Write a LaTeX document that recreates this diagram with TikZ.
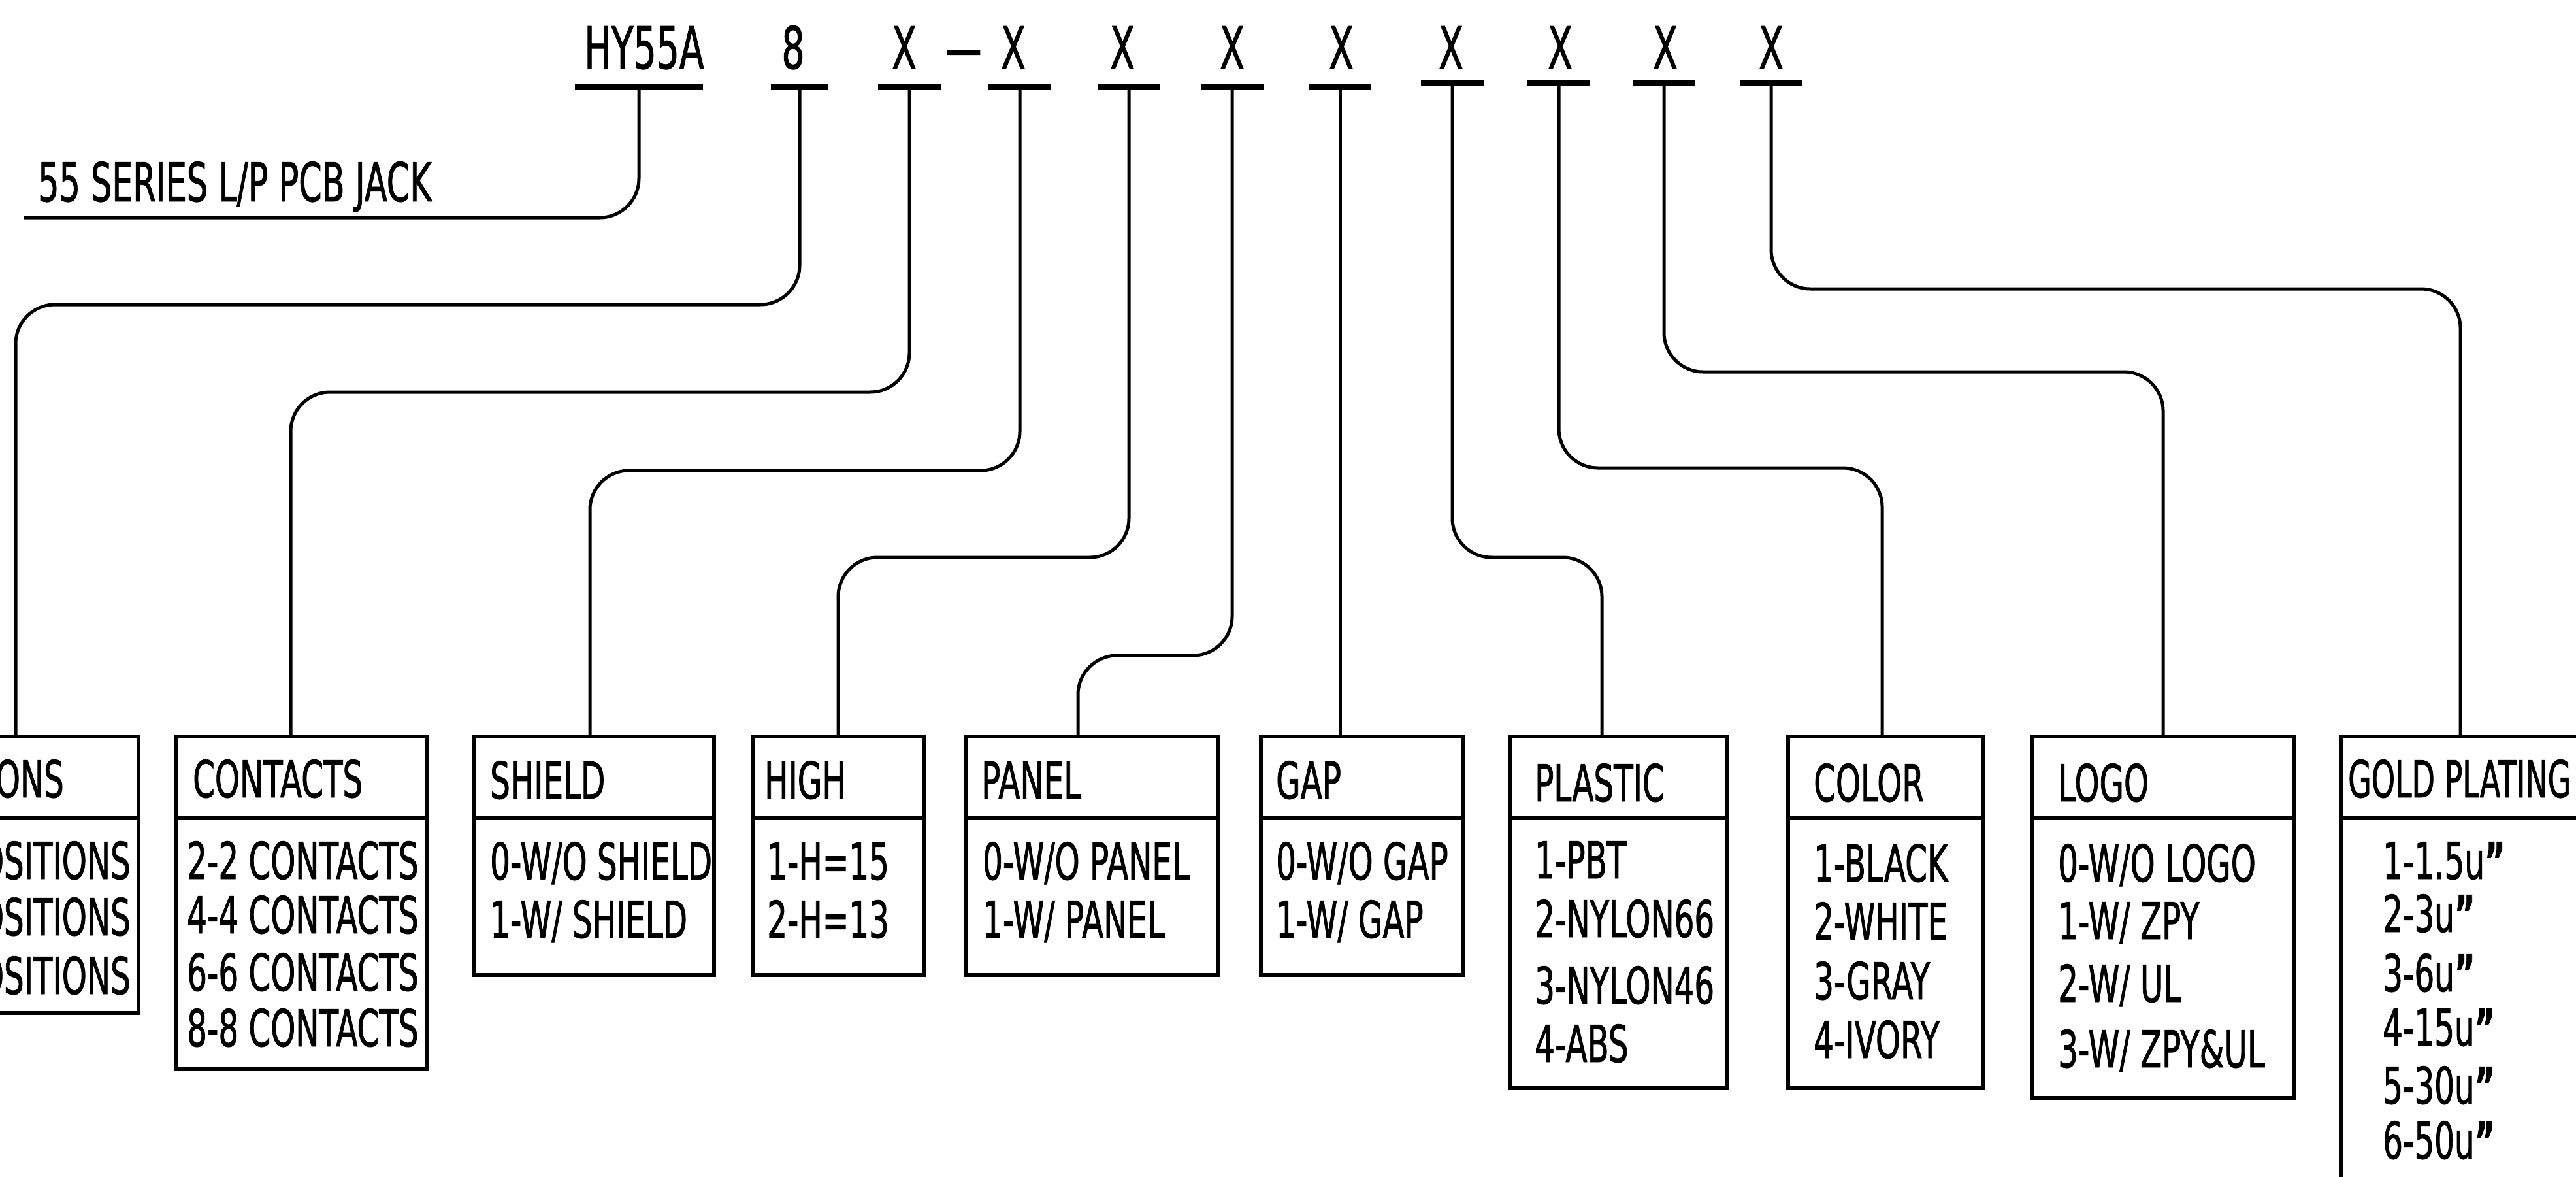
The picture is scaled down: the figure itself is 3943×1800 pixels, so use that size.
\documentclass[tikz,border=0pt]{standalone}
\usepackage{graphicx}
\usepackage{fontspec}
\setmainfont{DejaVu Sans}[FakeStretch=0.62,FakeBold=1]
\newcommand{\inchmark}{{\bfseries\char"0022}}
\begin{document}
\begin{tikzpicture}[x=1pt,y=-1pt,
  conn/.style={line width=5pt, rounded corners=60pt},
  uline/.style={line width=8pt},
  boxnode/.style={draw, line width=6.5pt, inner sep=0pt, outer sep=0pt, anchor=north west},
  divline/.style={line width=6.5pt},
  code/.style={font=\fontsize{89}{100}\selectfont, inner sep=0pt, anchor=base},
  hdr/.style={font=\fontsize{78}{90}\selectfont, inner sep=0pt, anchor=base west},
  item/.style={font=\fontsize{78}{90}\selectfont, inner sep=0pt, anchor=base west},
  itemr/.style={font=\fontsize{78}{90}\selectfont, inner sep=0pt, anchor=base east},
  note/.style={font=\fontsize{82}{90}\selectfont, inner sep=0pt, anchor=base west}]
\useasboundingbox (0,0) rectangle (3943,1800);
\fill[white] (0,0) rectangle (3943,1800);
\clip (0,0) rectangle (3943,1800);

% ---------- code row ----------
\node[code] (tHY) at (986,105) {HY55A};
\node[code] (t8)  at (1214,105) {8};
\node[code] (tX1) at (1384,105) {X};
\node[code] (tDash) at (1475,105) {—};
\node[code] (tX2) at (1551,105) {X};
\node[code] (tX3) at (1718,105) {X};
\node[code] (tX4) at (1886,105) {X};
\node[code] (tX5) at (2053,105) {X};
\node[code] (tX6) at (2221,105) {X};
\node[code] (tX7) at (2388,105) {X};
\node[code] (tX8) at (2549,105) {X};
\node[code] (tX9) at (2711,105) {X};

\coordinate (uHY) at (978,133);
\coordinate (u8)  at (1224,133);
\coordinate (uX1) at (1392,133);
\coordinate (uX2) at (1561,133);
\coordinate (uX3) at (1728,133);
\coordinate (uX4) at (1886,133);
\coordinate (uX5) at (2051,133);
\coordinate (uX6) at (2223,127);
\coordinate (uX7) at (2386,127);
\coordinate (uX8) at (2547,127);
\coordinate (uX9) at (2711,127);

\draw[uline] ([xshift=-98pt]uHY) -- ([xshift=98pt]uHY);
\draw[uline] ([xshift=-44pt]u8) -- ([xshift=44pt]u8);
\foreach \u in {uX1,uX2,uX3,uX4,uX5,uX6,uX7,uX8,uX9}
  \draw[uline] ([xshift=-48pt]\u) -- ([xshift=48pt]\u);

% ---------- series label ----------
\node[note] (series) at (58,308) {55 SERIES L/P PCB JACK};
\coordinate (jackEnd) at (36,333);

% ---------- boxes ----------
\node[boxnode, minimum width=422pt, minimum height=423pt] (positions) at (-210,1127) {};
\node[boxnode, minimum width=384pt, minimum height=509pt] (contacts) at (270,1127) {};
\node[boxnode, minimum width=368pt, minimum height=365pt] (shield) at (725,1127) {};
\node[boxnode, minimum width=263pt, minimum height=365pt] (high) at (1152,1127) {};
\node[boxnode, minimum width=386pt, minimum height=365pt] (panel) at (1479,1127) {};
\node[boxnode, minimum width=309pt, minimum height=365pt] (gap) at (1930,1127) {};
\node[boxnode, minimum width=333pt, minimum height=538pt] (plastic) at (2311,1127) {};
\node[boxnode, minimum width=298pt, minimum height=538pt] (color) at (2737,1127) {};
\node[boxnode, minimum width=400pt, minimum height=553pt] (logo) at (3111,1127) {};
\node[boxnode, minimum width=600pt, minimum height=800pt] (gold) at (3583,1127) {};

\foreach \b in {positions,contacts,shield,high,panel,gap,plastic,color,logo,gold}
  \draw[divline] ([yshift=-125pt]\b.north west) -- ([yshift=-125pt]\b.north east);

% attachment points on box tops
\coordinate (aPos) at (24,1127);
\coordinate (aCon) at (445,1127);
\coordinate (aShi) at (903,1127);
\coordinate (aHig) at (1283,1127);
\coordinate (aPan) at (1650,1127);
\coordinate (aPla) at (2452,1127);
\coordinate (aCol) at (2881,1127);
\coordinate (aLog) at (3311,1127);
\coordinate (aGol) at (3766,1127);

% ---------- connectors ----------
\draw[conn] (uHY) |- (jackEnd);
\draw[conn] (u8)  -- ++(0,333) -| (aPos);
\draw[conn] (uX1) -- ++(0,467) -| (aCon);
\draw[conn] (uX2) -- ++(0,587) -| (aShi);
\draw[conn] (uX3) -- ++(0,720) -| (aHig);
\draw[conn] (uX4) -- ++(0,870) -| (aPan);
\draw[conn] (uX5) -- (uX5 |- gap.north);
\draw[conn] (uX6) -- ++(0,726) -| (aPla);
\draw[conn] (uX7) -- ++(0,589) -| (aCol);
\draw[conn] (uX8) -- ++(0,442) -| (aLog);
\draw[conn] (uX9) -- ++(0,315) -| (aGol);

% ---------- box texts ----------
\node[itemr] (hPos) at (98,1220) {POSITIONS};
\node[itemr] (p1) at (200,1345) {4-4 POSITIONS};
\node[itemr] (p2) at (200,1431) {6-6 POSITIONS};
\node[itemr] (p3) at (200,1521) {8-8 POSITIONS};

\node[hdr] (hCon) at (295,1220) {CONTACTS};
\node[item] (c1) at (286,1345) {2-2 CONTACTS};
\node[item] (c2) at (286,1428) {4-4 CONTACTS};
\node[item] (c3) at (286,1516) {6-6 CONTACTS};
\node[item] (c4) at (286,1601) {8-8 CONTACTS};

\node[hdr] (hShi) at (750,1222) {SHIELD};
\node[item] (s1) at (750,1346) {0-W/O SHIELD};
\node[item] (s2) at (750,1435) {1-W/ SHIELD};

\node[hdr] (hHig) at (1170,1222) {HIGH};
\node[item] (g1) at (1174,1346) {1-H=15};
\node[item] (g2) at (1174,1435) {2-H=13};

\node[hdr] (hPan) at (1502,1222) {PANEL};
\node[item] (n1) at (1504,1346) {0-W/O PANEL};
\node[item] (n2) at (1504,1435) {1-W/ PANEL};

\node[hdr] (hGap) at (1953,1222) {GAP};
\node[item] (a1) at (1953,1346) {0-W/O GAP};
\node[item] (a2) at (1953,1435) {1-W/ GAP};

\node[hdr] (hPla) at (2349,1226) {PLASTIC};
\node[item] (l1) at (2349,1344) {1-PBT};
\node[item] (l2) at (2349,1434) {2-NYLON66};
\node[item] (l3) at (2349,1536) {3-NYLON46};
\node[item] (l4) at (2349,1625) {4-ABS};

\node[hdr] (hCol) at (2776,1226) {COLOR};
\node[item] (o1) at (2776,1349) {1-BLACK};
\node[item] (o2) at (2776,1438) {2-WHITE};
\node[item] (o3) at (2776,1529) {3-GRAY};
\node[item] (o4) at (2776,1619) {4-IVORY};

\node[hdr] (hLog) at (3150,1226) {LOGO};
\node[item] (g01) at (3150,1349) {0-W/O LOGO};
\node[item] (g02) at (3150,1437) {1-W/ ZPY};
\node[item] (g03) at (3150,1533) {2-W/ UL};
\node[item] (g04) at (3150,1633) {3-W/ ZPY\&UL};

\node[hdr] (hGol) at (3594,1220) {\scalebox{0.95}[1]{GOLD PLATING}};
\node[item] (d1) at (3647,1345) {1-1.5u\inchmark};
\node[item] (d2) at (3647,1426) {2-3u\inchmark};
\node[item] (d3) at (3647,1517) {3-6u\inchmark};
\node[item] (d4) at (3647,1600) {4-15u\inchmark};
\node[item] (d5) at (3647,1689) {5-30u\inchmark};
\node[item] (d6) at (3647,1773) {6-50u\inchmark};
\end{tikzpicture}
\end{document}
